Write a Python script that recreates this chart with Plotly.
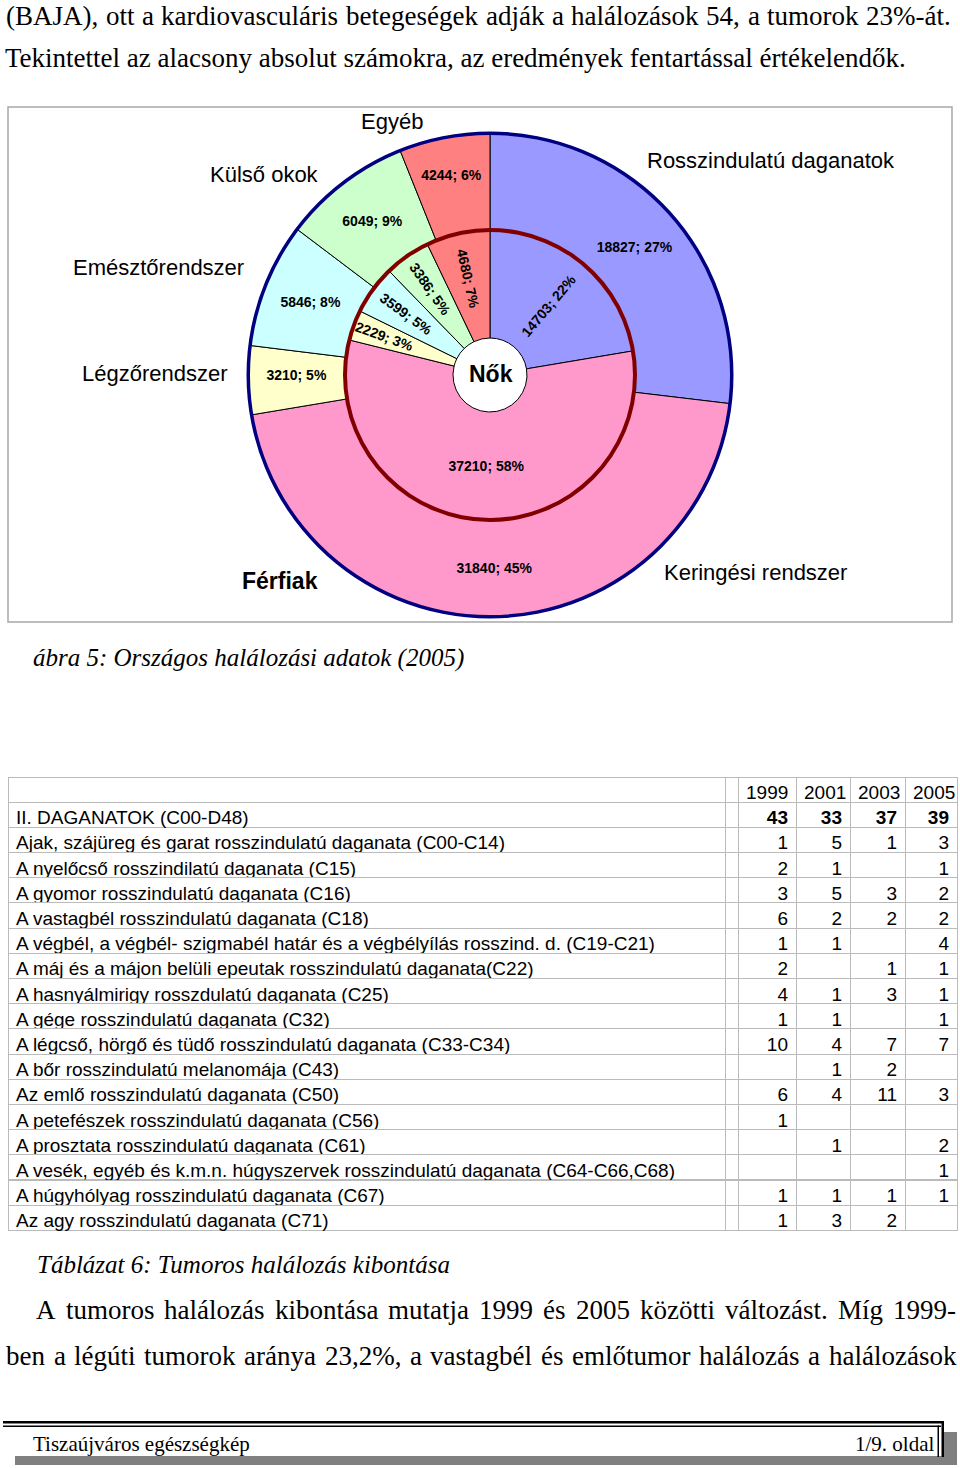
import plotly.graph_objects as go

W, H = 960, 1468

# ---------------- data ----------------
causes = ["Rosszindulatú daganatok", "Keringési rendszer", "Légzőrendszer",
          "Emésztőrendszer", "Külső okok", "Egyéb"]
colors = ["#9999FF", "#FF99CC", "#FFFFCC", "#CCFFFF", "#CCFFCC", "#FF8080"]
men_values = [18827, 31840, 3210, 5846, 6049, 4244]
men_pct = ["27%", "45%", "5%", "8%", "9%", "6%"]
women_values = [14703, 37210, 2229, 3599, 3386, 4680]
women_pct = ["22%", "58%", "3%", "5%", "5%", "7%"]

years = ["1999", "2001", "2003", "2005"]
rows = [
    "II. DAGANATOK (C00-D48)",
    "Ajak, szájüreg és garat rosszindulatú daganata (C00-C14)",
    "A nyelőcső rosszindilatú daganata (C15)",
    "A gyomor rosszindulatú daganata (C16)",
    "A vastagbél rosszindulatú daganata (C18)",
    "A végbél, a végbél- szigmabél határ és a végbélyílás rosszind. d. (C19-C21)",
    "A máj és a májon belüli epeutak rosszindulatú daganata(C22)",
    "A hasnyálmirigy rosszdulatú daganata (C25)",
    "A gége rosszindulatú daganata (C32)",
    "A légcső, hörgő és tüdő rosszindulatú daganata (C33-C34)",
    "A bőr rosszindulatú melanomája (C43)",
    "Az emlő rosszindulatú daganata (C50)",
    "A petefészek rosszindulatú daganata (C56)",
    "A prosztata rosszindulatú daganata (C61)",
    "A vesék, egyéb és k.m.n. húgyszervek rosszindulatú daganata (C64-C66,C68)",
    "A húgyhólyag rosszindulatú daganata (C67)",
    "Az agy rosszindulatú daganata (C71)",
]
v1999 = [43, 1, 2, 3, 6, 1, 2, 4, 1, 10, None, 6, 1, None, None, 1, 1]
v2001 = [33, 5, 1, 5, 2, 1, None, 1, 1, 4, 1, 4, None, 1, None, 1, 3]
v2003 = [37, 1, None, 3, 2, None, 1, 3, None, 7, 2, 11, None, None, None, 1, 2]
v2005 = [39, 3, 1, 2, 2, 4, 1, 1, 1, 7, None, 3, None, 2, 1, 1, None]

# ---------------- helpers ----------------
def px(x):
    return x / W

def py(y):
    return 1 - y / H

SANS = "Liberation Sans, Arial, sans-serif"
SERIF = "Liberation Serif, Times New Roman, serif"

cx, cy = 490, 375
R_OUT, R_IN, R_HOLE = 242, 145, 37

def dom(r):
    return dict(x=[px(cx - r), px(cx + r)], y=[py(cy + r), py(cy - r)])

fig = go.Figure()

men_text = [f"<b>{v}; {p}</b>" for v, p in zip(men_values, men_pct)]
women_text = [f"<b>{v}; {p}</b>" for v, p in zip(women_values, women_pct)]
PIE_FONT = dict(family=SANS, size=14, color="#000000")

# outer ring: Férfiak
fig.add_trace(go.Pie(
    labels=causes, values=men_values, marker=dict(colors=colors, line=dict(color="#000000", width=1)),
    domain=dom(R_OUT), hole=R_IN / R_OUT, sort=False, direction="clockwise", rotation=0,
    text=men_text, textinfo="text", textposition="inside", insidetextorientation="horizontal",
    textfont=PIE_FONT, showlegend=False, name="Férfiak"))
# outer border ring
fig.add_trace(go.Pie(
    values=[1], marker=dict(colors=["#000080"], line=dict(width=0)), domain=dom(R_OUT + 1.5),
    hole=(R_OUT - 2) / (R_OUT + 1.5), textinfo="none", hoverinfo="skip", showlegend=False, sort=False))

# inner ring: Nők (radial labels except the big slice)
radial_text = [t if i != 1 else "" for i, t in enumerate(women_text)]
fig.add_trace(go.Pie(
    labels=causes, values=women_values, marker=dict(colors=colors, line=dict(color="#000000", width=1)),
    domain=dom(R_IN), hole=R_HOLE / R_IN, sort=False, direction="clockwise", rotation=0,
    text=radial_text, textinfo="text", textposition="inside", insidetextorientation="radial",
    textfont=PIE_FONT, showlegend=False, name="Nők"))
horiz_text = [t if i == 1 else "" for i, t in enumerate(women_text)]
fig.add_trace(go.Pie(
    labels=causes, values=women_values, marker=dict(colors=["rgba(0,0,0,0)"] * 6, line=dict(width=0)),
    domain=dom(R_IN), hole=R_HOLE / R_IN, sort=False, direction="clockwise", rotation=0,
    text=horiz_text, textinfo="text", textposition="inside", insidetextorientation="horizontal",
    textfont=PIE_FONT, showlegend=False, hoverinfo="skip"))
# inner border ring
fig.add_trace(go.Pie(
    values=[1], marker=dict(colors=["#800000"], line=dict(width=0)), domain=dom(R_IN + 2),
    hole=(R_IN - 2) / (R_IN + 2), textinfo="none", hoverinfo="skip", showlegend=False, sort=False))

# table
header_vals = ["", ""] + years
def fmt(vals):
    return ["" if v is None else str(v) for v in vals]

n = len(rows)
TB_TOP, HDR_H, ROW_H = 777, 25, 25.2
colw = [717, 13, 58, 54, 55, 52]
aligns = ["left", "left", "right", "right", "right", "right"]
GRID = "#BBBBBB"
fig.add_trace(go.Table(
    domain=dict(x=[px(8), px(957)], y=[py(1240), py(TB_TOP)]),
    columnwidth=colw,
    header=dict(values=header_vals, align="left",
                height=HDR_H, fill=dict(color="white"), line=dict(color=GRID, width=1),
                font=dict(family=SANS, size=19, color="#000000")),
    cells=dict(values=[rows, [""] * n, fmt(v1999), fmt(v2001), fmt(v2003), fmt(v2005)],
               align=aligns, height=ROW_H, fill=dict(color="white"), line=dict(color=GRID, width=1),
               font=dict(family=SANS, size=19, color="#000000")),
))
# bold totals row drawn as an overlay one-row table
first_row = [rows[0], "", fmt(v1999)[0], fmt(v2001)[0], fmt(v2003)[0], fmt(v2005)[0]]
fig.add_trace(go.Table(
    domain=dict(x=[px(8), px(957)], y=[py(TB_TOP + HDR_H + ROW_H + 6), py(TB_TOP + HDR_H)]),
    columnwidth=colw,
    header=dict(values=first_row, align=aligns, height=ROW_H, fill=dict(color="white"),
                line=dict(color=GRID, width=1),
                font=dict(family=SANS, size=19, color="#000000",
                          weight=["normal", "normal", "bold", "bold", "bold", "bold"])),
    cells=dict(values=[[] for _ in range(6)], line=dict(color=GRID, width=1), fill=dict(color="white")),
))

ann = []
def text(x, y, s, size, family=SERIF, anchor="left", italic=False, bold=False):
    if italic:
        s = f"<i>{s}</i>"
    if bold:
        s = f"<b>{s}</b>"
    ann.append(dict(x=px(x), y=py(y), xref="paper", yref="paper", text=s, showarrow=False,
                    xanchor=anchor, yanchor="middle", font=dict(family=family, size=size, color="#000000")))

# Times-Roman advance widths (1/1000 em) for justified lines
TW = {' ': 250, '(': 333, ')': 333, ',': 250, '.': 250, '-': 333, '%': 833, ':': 278, ';': 278,
      'A': 722, 'B': 667, 'J': 389, 'M': 889, 'T': 611,
      'a': 444, 'b': 500, 'c': 444, 'd': 500, 'e': 444, 'f': 333, 'g': 500, 'h': 500, 'i': 278,
      'j': 278, 'k': 500, 'l': 278, 'm': 778, 'n': 500, 'o': 500, 'p': 500, 'r': 333, 's': 389,
      't': 278, 'u': 500, 'v': 500, 'y': 500, 'z': 444,
      'á': 444, 'é': 444, 'í': 278, 'ó': 500, 'ö': 500, 'ő': 500, 'ú': 500, 'ü': 500, 'ű': 500}

def wwidth(w, size):
    return sum(TW.get(c, 500) for c in w) * size / 1000.0

def justify(line, x0, x1, y, size):
    words = line.split(" ")
    widths = [wwidth(w, size) for w in words]
    gap = (x1 - x0 - sum(widths)) / (len(words) - 1)
    x = x0
    for w, wd in zip(words, widths):
        text(x, y, w, size)
        x += wd + gap

# page text
justify("(BAJA), ott a kardiovasculáris betegeségek adják a halálozások 54, a tumorok 23%-át.", 4, 949, 16, 27)
text(3, 58, "Tekintettel az alacsony absolut számokra, az eredmények fentartással értékelendők.", 27)
text(31, 658, "ábra 5: Országos halálozási adatok (2005)", 25, italic=True)
text(35, 1264, "Táblázat 6: Tumoros halálozás kibontása", 25, italic=True)
justify("A tumoros halálozás kibontása mutatja 1999 és 2005 közötti változást. Míg 1999-", 34, 954, 1310, 27)
justify("ben a légúti tumorok aránya 23,2%, a vastagbél és emlőtumor halálozás a halálozások", 4, 954, 1356, 27)
text(31, 1444, "Tiszaújváros egészségkép", 21)
text(936, 1444, "1/9. oldal", 21, anchor="right")

# chart labels
text(392, 121, "Egyéb", 22, family=SANS, anchor="center")
text(264, 175, "Külső okok", 22, family=SANS, anchor="center")
text(771, 160, "Rosszindulatú daganatok", 22, family=SANS, anchor="center")
text(158, 267, "Emésztőrendszer", 22, family=SANS, anchor="center")
text(155, 374, "Légzőrendszer", 22, family=SANS, anchor="center")
text(755, 572, "Keringési rendszer", 22, family=SANS, anchor="center")
text(280, 581, "Férfiak", 23, family=SANS, anchor="center", bold=True)
text(491, 374, "Nők", 23, family=SANS, anchor="center", bold=True)

shapes = []
def rect(x0, y0, x1, y1, fill=None, line=None, lw=0):
    shapes.append(dict(type="rect", xref="paper", yref="paper", x0=px(x0), x1=px(x1), y0=py(y1), y1=py(y0),
                       fillcolor=fill if fill else "rgba(0,0,0,0)",
                       line=dict(color=line if line else "rgba(0,0,0,0)", width=lw), layer="below"))

# chart frame
rect(8, 107, 952, 622, line="#A8A8A8", lw=1.5)
# footer shadow
rect(15, 1455, 957, 1465, fill="#808080")
rect(944, 1432, 957, 1465, fill="#808080")
rect(3, 1455, 944, 1456, fill="white")
# footer double lines
rect(3, 1421, 944, 1423.5, fill="#000000")
rect(3, 1425.5, 941, 1427, fill="#000000")
rect(941.5, 1421, 944, 1457, fill="#000000")
rect(937.5, 1425.5, 939, 1457, fill="#000000")
rect(15, 1430, 937, 1455, fill="white")

fig.update_layout(width=W, height=H, margin=dict(l=0, r=0, t=0, b=0), autosize=False,
                  paper_bgcolor="white", plot_bgcolor="white", annotations=ann, shapes=shapes)

fig.write_html("out.html", config={"displayModeBar": False},
               post_script="document.body.style.margin='0';document.body.style.overflow='hidden';")
